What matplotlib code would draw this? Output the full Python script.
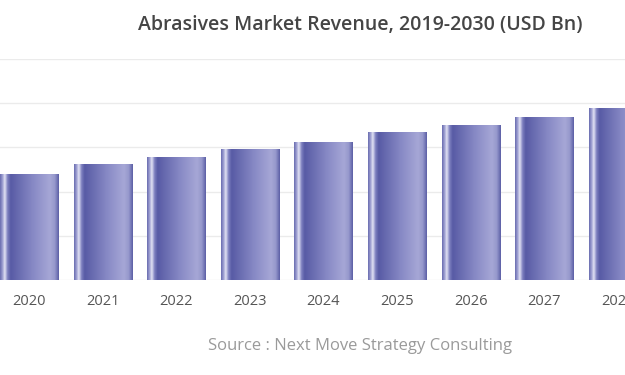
import numpy as np
import matplotlib
matplotlib.use("Agg")
import matplotlib.pyplot as plt
from matplotlib.colors import LinearSegmentedColormap
from matplotlib.patches import Rectangle

years = ["2020", "2021", "2022", "2023", "2024", "2025", "2026", "2027", "2028"]
revenue = [36.1, 39.2, 41.9, 44.3, 47.0, 50.1, 52.5, 55.2, 58.3]
grid_values = [0, 15, 30, 45, 60, 75]

title = "Abrasives Market Revenue, 2019-2030 (USD Bn)"
source = "Source : Next Move Strategy Consulting"

plt.rcParams['font.family'] = ['Open Sans', 'DejaVu Sans']

fig = plt.figure(figsize=(6.25, 3.75), dpi=100)
ax = fig.add_axes([0, 1 - 280 / 375, 1, (280 - 59) / 375])

x = np.arange(len(years))
width = 0.79

for v in grid_values:
    ax.axhline(v, color="#ebebeb", lw=1, zorder=0)

cmap = LinearSegmentedColormap.from_list("bar", [
    (0.00, "#6a6db0"),
    (0.04, "#9a9cd0"),
    (0.08, "#e2e2f4"),
    (0.13, "#7b7ebe"),
    (0.18, "#585ba5"),
    (0.55, "#8688c4"),
    (0.85, "#a6a7d6"),
    (0.93, "#9698cc"),
    (1.00, "#5c5fa6"),
])
grad = np.linspace(0, 1, 256).reshape(1, -1)

bars = ax.bar(x, revenue, width=width, color="none", edgecolor="none", zorder=2)
for b in bars:
    x0, y0 = b.get_x(), b.get_y()
    w, h = b.get_width(), b.get_height()
    im = ax.imshow(grad, cmap=cmap, aspect="auto",
                   extent=(x0, x0 + w, y0, y0 + h), zorder=2)
    clip = Rectangle((x0, y0), w, h, transform=ax.transData)
    im.set_clip_path(clip)

ax.set_xlim(-0.394, -0.394 + 625 / 73.6)
ax.set_ylim(0, 75)
ax.set_xticks(x)
ax.set_xticklabels(years, color="#555555", fontsize=10.5)
ax.tick_params(axis="x", length=0, pad=10)
ax.set_yticks([])
for s in ax.spines.values():
    s.set_visible(False)

fig.text(360 / 625, 1 - 25 / 375, title, ha="center", va="center",
         fontsize=14, color="#454545", fontweight="semibold")
fig.text(360 / 625, 1 - 346 / 375, source, ha="center", va="center",
         fontsize=12, color="#9a9a9a")

fig.savefig("out.png", dpi=100)
